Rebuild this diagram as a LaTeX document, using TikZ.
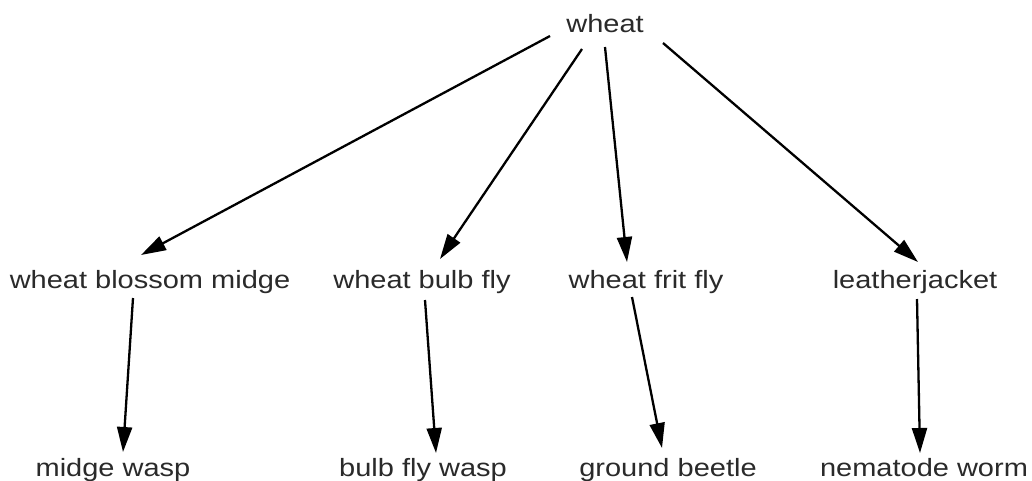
\documentclass[tikz,border=0pt]{standalone}
\usepackage{graphicx}
\usepackage{fontspec}
\setmainfont{Liberation Sans}
\usetikzlibrary{arrows.meta,calc}
\definecolor{txt}{HTML}{2A2A2A}
\newcommand\lbl[1]{\scalebox{1.16}[1]{#1}}
\tikzset{
  lab/.style={anchor=base,inner sep=0pt,text=txt,font=\fontsize{25}{29}\selectfont},
  arr/.style={draw=black,line width=2.3pt,-{Triangle[length=25pt,width=15pt]}}
}
\begin{document}
\begin{tikzpicture}[x=1pt,y=-1pt]
\fill[white] (0,0) rectangle (1032,480);
\useasboundingbox (0,0) rectangle (1032,480);
\node[lab] (w)  at (605,32)  {\lbl{wheat}};
\node[lab] (bm) at (150,288) {\lbl{wheat blossom midge}};
\node[lab] (bf) at (422,288) {\lbl{wheat bulb fly}};
\node[lab] (ff) at (646,288) {\lbl{wheat frit fly}};
\node[lab] (lj) at (915,288) {\lbl{leatherjacket}};
\node[lab] (mw) at (113,476) {\lbl{midge wasp}};
\node[lab] (bw) at (423,476) {\lbl{bulb fly wasp}};
\node[lab] (gb) at (668,476) {\lbl{ground beetle}};
\node[lab] (nw) at (924,476) {\lbl{nematode worm}};
\draw[arr] ($(w.base)+(-55,4)$)  -- ($(bm.base)+(-9,-33)$);
\draw[arr] ($(w.base)+(-23,17)$) -- ($(bf.base)+(18,-29)$);
\draw[arr] ($(w.base)+(0,15)$)   -- ($(ff.base)+(-19,-26)$);
\draw[arr] ($(w.base)+(58,11)$)  -- ($(lj.base)+(3,-26)$);
\draw[arr] ($(bm.base)+(-17,10)$) -- ($(mw.base)+(10,-24)$);
\draw[arr] ($(bf.base)+(3,12)$)   -- ($(bw.base)+(13,-23)$);
\draw[arr] ($(ff.base)+(-14,9)$)  -- ($(gb.base)+(-6,-28)$);
\draw[arr] ($(lj.base)+(2,11)$)   -- ($(nw.base)+(-4,-23)$);
\end{tikzpicture}
\end{document}
